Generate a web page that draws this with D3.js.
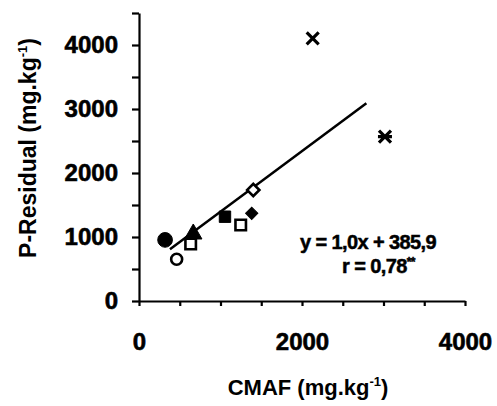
<!DOCTYPE html>
<html>
<head>
<meta charset="utf-8">
<script src="https://cdn.jsdelivr.net/npm/d3@7"></script>
<style>
  body { margin: 0; background: #fff; }
  svg text { font-family: "Liberation Sans", Arial, sans-serif; fill: #000; }
</style>
</head>
<body>
<div id="chart"></div>
<script>
// values
var cmaf   = [320, 462, 634, 666, 1055, 1248, 1383, 1402, 2131, 3018];
var presid = [955, 652, 891, 1047, 1317, 1187, 1370, 1734, 4105, 2567];
var marks  = ['circleFill', 'circleOpen', 'squareOpen', 'triangleFill', 'squareFill',
              'squareOpen', 'diamondFill', 'diamondOpen', 'cross', 'star'];

var fitX = [380, 2790];
var fitY = [810, 3090];

var xTickLabels = [0, 2000, 4000];
var yTickLabels = [0, 1000, 2000, 3000, 4000];

var W = 497, H = 406;

var svg = d3.select('#chart').append('svg')
  .attr('width', W)
  .attr('height', H);

var x = d3.scaleLinear().domain([0, 4000]).range([139, 465]);
var y = d3.scaleLinear().domain([0, 4500]).range([301, 13]);

// y axis
var yAxis = d3.axisLeft(y)
  .tickValues(d3.range(0, 4501, 500))
  .tickFormat(function(d) { return yTickLabels.indexOf(d) >= 0 ? d : ''; })
  .tickSize(7)
  .tickSizeOuter(0)
  .tickPadding(14);

var gy = svg.append('g').attr('transform', 'translate(' + x(0) + ',0)').call(yAxis);

// x axis
var xAxis = d3.axisBottom(x)
  .tickValues(d3.range(0, 4001, 500))
  .tickFormat(function(d) { return xTickLabels.indexOf(d) >= 0 ? d : ''; })
  .tickSize(5)
  .tickSizeOuter(0)
  .tickPadding(27);

var gx = svg.append('g').attr('transform', 'translate(0,' + y(0) + ')').call(xAxis);

[gx, gy].forEach(function(g) {
  g.selectAll('path, line').attr('stroke', '#000').attr('stroke-width', 2.2);
  g.selectAll('text')
    .attr('font-family', '"Liberation Sans", Arial, sans-serif')
    .attr('font-size', 24)
    .attr('font-weight', 'bold')
    .attr('fill', '#000')
    .attr('stroke', '#000')
    .attr('stroke-width', 0.6);
});

// regression line
svg.append('line')
  .attr('x1', x(fitX[0])).attr('y1', y(fitY[0]))
  .attr('x2', x(fitX[1])).attr('y2', y(fitY[1]))
  .attr('stroke', '#000')
  .attr('stroke-width', 2.5);

// markers
var sym = d3.symbol();
function markPath(kind) {
  if (kind === 'circleFill') return sym.type(d3.symbolCircle).size(170)();
  if (kind === 'circleOpen') return sym.type(d3.symbolCircle).size(95)();
  if (kind === 'squareOpen') return sym.type(d3.symbolSquare).size(110)();
  if (kind === 'squareFill') return sym.type(d3.symbolSquare).size(130)();
  if (kind === 'triangleFill') return sym.type(d3.symbolTriangle).size(130)();
  if (kind === 'diamondFill' || kind === 'diamondOpen') return sym.type(d3.symbolSquare).size(75)();
  if (kind === 'cross') return 'M-6,-6L6,6M6,-6L-6,6';
  if (kind === 'star') return 'M-6,-6L6,6M6,-6L-6,6M-7,0L7,0';
  return '';
}

var pts = cmaf.map(function(v, i) { return { cx: v, cy: presid[i], kind: marks[i] }; });

svg.append('g').selectAll('path')
  .data(pts)
  .enter()
  .append('path')
  .attr('d', function(d) { return markPath(d.kind); })
  .attr('transform', function(d) {
    var rot = d.kind.indexOf('diamond') === 0 ? ' rotate(45)' : '';
    return 'translate(' + x(d.cx) + ',' + y(d.cy) + ')' + rot;
  })
  .attr('fill', function(d) {
    if (d.kind.indexOf('Fill') > 0) return '#000';
    if (d.kind.indexOf('Open') > 0) return '#fff';
    return 'none';
  })
  .attr('stroke', '#000')
  .attr('stroke-width', function(d) {
    if (d.kind === 'cross' || d.kind === 'star') return 3.2;
    return d.kind.indexOf('Open') > 0 ? 2.6 : 1;
  });

// equation
var eq = svg.append('g')
  .attr('font-family', '"Liberation Sans", Arial, sans-serif')
  .attr('font-weight', 'bold')
  .attr('font-size', 20)
  .attr('stroke', '#000')
  .attr('stroke-width', 0.5);

eq.append('text')
  .attr('x', 300).attr('y', 249)
  .attr('letter-spacing', -0.6)
  .text('y = 1,0x + 385,9');

var rt = eq.append('text')
  .attr('x', 342).attr('y', 273)
  .attr('letter-spacing', -0.6);
rt.append('tspan').text('r = 0,78');
rt.append('tspan').attr('font-size', 12).attr('dy', -7).text('**');

// axis titles
var xt = svg.append('text')
  .attr('x', 308).attr('y', 395)
  .attr('text-anchor', 'middle')
  .attr('font-size', 22)
  .attr('font-weight', 'bold');
xt.append('tspan').text('CMAF (mg.kg');
xt.append('tspan').attr('font-size', 13).attr('dy', -9).text('-1');
xt.append('tspan').attr('dy', 9).text(')');

var yt = svg.append('text')
  .attr('transform', 'translate(36,148) rotate(-90)')
  .attr('text-anchor', 'middle')
  .attr('font-size', 23)
  .attr('font-weight', 'bold');
yt.append('tspan').text('P-Residual (mg.kg');
yt.append('tspan').attr('font-size', 13).attr('dy', -9).text('-1');
yt.append('tspan').attr('dy', 9).text(')');
</script>
</body>
</html>
